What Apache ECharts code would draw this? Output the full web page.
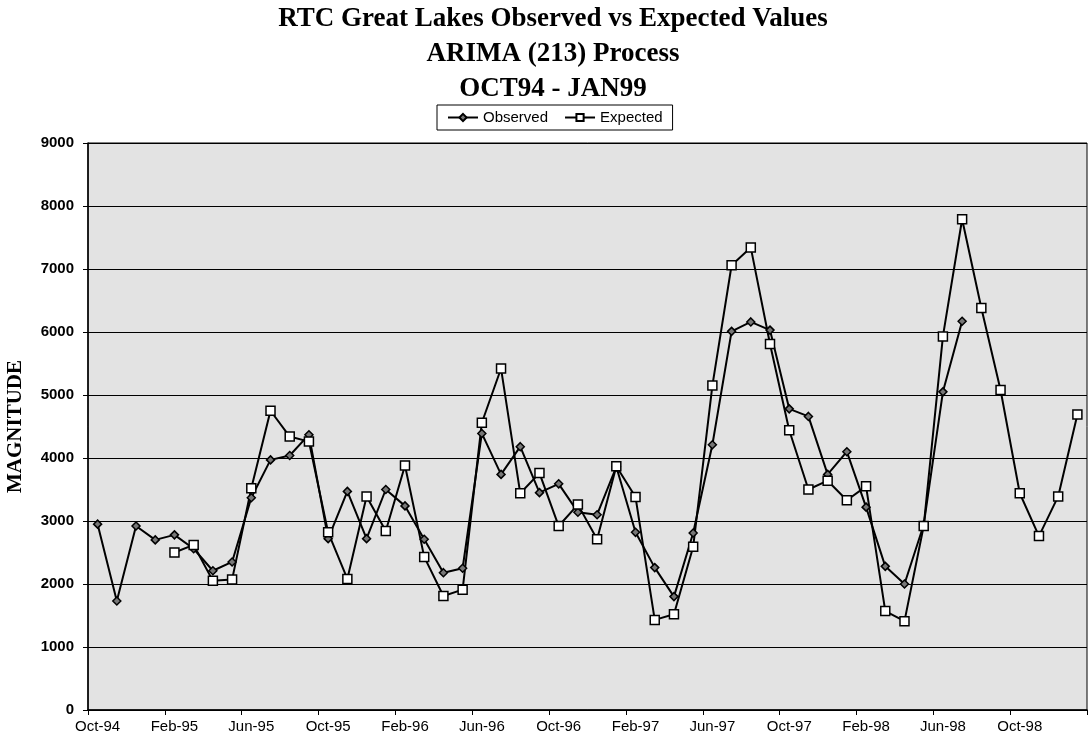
<!DOCTYPE html>
<html lang="en" style="height: 100%">
<head>
    <meta charset="utf-8">
</head>
<body style="height: 100%; margin: 0; background: #fff">
<div id="container" style="width: 1089px; height: 746px"></div>
<script type="text/javascript" src="https://fastly.jsdelivr.net/npm/echarts@6/dist/echarts.min.js"></script>
<script type="text/javascript">

    // months Oct-94 .. Jan-99
    const months = [
        'Oct-94', 'Nov-94', 'Dec-94', 'Jan-95', 'Feb-95', 'Mar-95', 'Apr-95', 'May-95', 'Jun-95', 'Jul-95',
        'Aug-95', 'Sep-95', 'Oct-95', 'Nov-95', 'Dec-95', 'Jan-96', 'Feb-96', 'Mar-96', 'Apr-96', 'May-96',
        'Jun-96', 'Jul-96', 'Aug-96', 'Sep-96', 'Oct-96', 'Nov-96', 'Dec-96', 'Jan-97', 'Feb-97', 'Mar-97',
        'Apr-97', 'May-97', 'Jun-97', 'Jul-97', 'Aug-97', 'Sep-97', 'Oct-97', 'Nov-97', 'Dec-97', 'Jan-98',
        'Feb-98', 'Mar-98', 'Apr-98', 'May-98', 'Jun-98', 'Jul-98', 'Aug-98', 'Sep-98', 'Oct-98', 'Nov-98',
        'Dec-98', 'Jan-99'
    ];

    const observed = [
        2950, 1730, 2920, 2700, 2780, 2560, 2210, 2350, 3370, 3970,
        4040, 4370, 2720, 3470, 2720, 3500, 3240, 2710, 2180, 2250,
        4390, 3740, 4180, 3450, 3590, 3140, 3100, 3860, 2820, 2260,
        1800, 2810, 4210, 6010, 6160, 6030, 4780, 4660, 3740, 4100,
        3220, 2280, 2000, 2940, 5050, 6170, null, null, null, null,
        null, null
    ];

    const expected = [
        null, null, null, null, 2500, 2620, 2050, 2070, 3520, 4750,
        4340, 4260, 2820, 2080, 3390, 2840, 3880, 2430, 1810, 1910,
        4560, 5420, 3440, 3760, 2920, 3260, 2710, 3870, 3380, 1430,
        1520, 2590, 5150, 7060, 7340, 5810, 4440, 3500, 3640, 3330,
        3550, 1570, 1410, 2920, 5930, 7790, 6380, 5080, 3440, 2760,
        3390, 4690
    ];

    const titleLines = ['RTC Great Lakes Observed vs Expected Values', 'ARIMA (213) Process', 'OCT94 - JAN99'];

    const serif = '"Liberation Serif", "DejaVu Serif", serif';
    const sans = '"Liberation Sans", Arial, sans-serif';

    var dom = document.getElementById('container');
    var myChart = echarts.init(dom, null, {renderer: 'canvas'});

    const option = {
        animation: false,
        backgroundColor: '#fff',
        title: titleLines.map((t, i) => ({
            text: t,
            left: 553,
            textAlign: 'center',
            top: 6 + i * 35,
            padding: 0,
            textStyle: {fontFamily: serif, fontSize: 27, fontWeight: 'bold', color: '#000'}
        })),
        legend: {
            top: 105,
            left: 437,
            itemWidth: 30,
            itemHeight: 9,
            itemGap: 16,
            padding: [5, 10],
            borderColor: '#000',
            borderWidth: 1,
            backgroundColor: '#fff',
            textStyle: {fontFamily: sans, fontSize: 15, color: '#000'},
            data: ['Observed', 'Expected']
        },
        grid: {
            left: 88,
            right: 2,
            top: 143,
            bottom: 36,
            outerBoundsMode: 'none',
            containLabel: false,
            show: true,
            backgroundColor: '#e3e3e3',
            borderColor: '#000',
            borderWidth: 1
        },
        xAxis: {
            type: 'category',
            data: months,
            boundaryGap: true,
            axisLine: {lineStyle: {color: '#000', width: 1.5}},
            axisTick: {show: true, interval: 3, length: 5, lineStyle: {color: '#000'}},
            axisLabel: {
                interval: 3,
                margin: 9,
                fontFamily: sans,
                fontSize: 15,
                color: '#000'
            },
            splitLine: {show: false}
        },
        yAxis: {
            type: 'value',
            min: 0,
            max: 9000,
            interval: 1000,
            name: 'MAGNITUDE',
            nameLocation: 'middle',
            nameRotate: 90,
            nameGap: 62,
            nameTextStyle: {fontFamily: serif, fontSize: 21, fontWeight: 'bold', color: '#000'},
            axisLine: {show: true, lineStyle: {color: '#000', width: 1.5}},
            axisTick: {show: true, length: 5, lineStyle: {color: '#000'}},
            axisLabel: {
                fontFamily: sans,
                fontSize: 15,
                fontWeight: 'bold',
                color: '#000',
                margin: 14,
                formatter: v => String(v)
            },
            splitLine: {show: true, lineStyle: {color: '#000', width: 1.2}}
        },
        series: [
            {
                name: 'Observed',
                type: 'line',
                data: observed,
                symbol: 'diamond',
                symbolSize: 8,
                lineStyle: {color: '#000', width: 2},
                itemStyle: {color: '#777', borderColor: '#000', borderWidth: 1.5}
            },
            {
                name: 'Expected',
                type: 'line',
                data: expected,
                symbol: 'rect',
                symbolSize: 9,
                lineStyle: {color: '#000', width: 2},
                itemStyle: {color: '#fff', borderColor: '#000', borderWidth: 1.5}
            }
        ]
    };

    myChart.setOption(option);

</script>
</body>
</html>
